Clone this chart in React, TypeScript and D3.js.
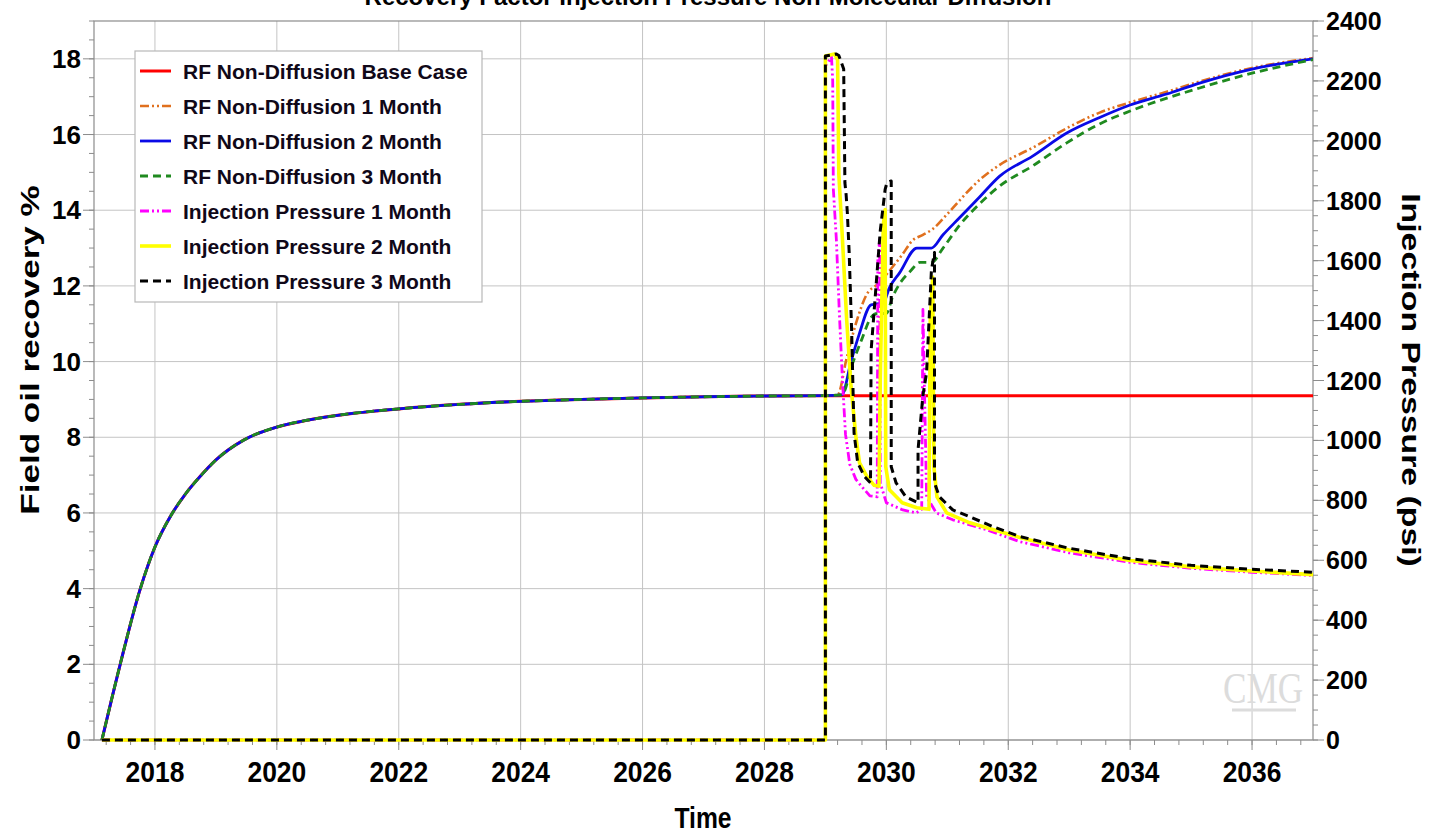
import React from "react";
import * as d3 from "d3";

// ---------- DATA ----------
const chartTitle = "Recovery Factor Injection Pressure Non-Molecular Diffusion";
const leftTicks = [0, 2, 4, 6, 8, 10, 12, 14, 16, 18];
const rightTicks = [0, 200, 400, 600, 800, 1000, 1200, 1400, 1600, 1800, 2000, 2200, 2400];
const xTicks = [2018, 2020, 2022, 2024, 2026, 2028, 2030, 2032, 2034, 2036];

// Base case recovery factor (%), shared by all cases until injection starts
const baseYears = [2017.13, 2017.43, 2017.76, 2018.0, 2018.25, 2018.5, 2018.75, 2019.0, 2019.46, 2020.0, 2020.5, 2021.0, 2022.0, 2023.0, 2024.0, 2025.0, 2026.0, 2027.0, 2028.0, 2029.0, 2037.0];
const baseRF = [0, 2.0, 4.0, 5.1, 5.9, 6.5, 6.98, 7.4, 7.93, 8.27, 8.45, 8.58, 8.75, 8.87, 8.95, 9.0, 9.04, 9.07, 9.09, 9.1, 9.1];

const rf1Years = [2029.2, 2029.35, 2029.5, 2029.67, 2029.9, 2030.05, 2030.25, 2030.43, 2030.6, 2030.76, 2031.0, 2031.53, 2031.86, 2032.4, 2033.0, 2033.5, 2034.0, 2034.6, 2035.14, 2036.0, 2037.0];
const rf1Values = [9.12, 10.1, 11.0, 11.75, 12.1, 12.4, 12.8, 13.2, 13.35, 13.5, 13.9, 14.8, 15.2, 15.65, 16.2, 16.58, 16.85, 17.13, 17.4, 17.76, 18.02];

const rf2Years = [2029.27, 2029.42, 2029.55, 2029.75, 2029.95, 2030.05, 2030.22, 2030.5, 2030.74, 2030.93, 2031.2, 2031.53, 2031.86, 2032.4, 2032.96, 2033.5, 2034.0, 2034.6, 2035.14, 2036.0, 2037.0];
const rf2Values = [9.12, 10.0, 10.7, 11.5, 11.55, 11.95, 12.35, 13.0, 13.0, 13.35, 13.8, 14.35, 14.9, 15.43, 16.04, 16.45, 16.78, 17.07, 17.36, 17.73, 18.0];

const rf3Years = [2029.27, 2029.45, 2029.6, 2029.75, 2029.85, 2030.0, 2030.1, 2030.22, 2030.4, 2030.55, 2030.74, 2030.93, 2031.2, 2031.53, 2031.86, 2032.4, 2032.96, 2033.5, 2034.0, 2035.14, 2036.0, 2037.0];
const rf3Values = [9.12, 9.97, 10.6, 11.17, 11.27, 11.27, 11.7, 12.06, 12.4, 12.62, 12.62, 13.0, 13.6, 14.17, 14.64, 15.17, 15.78, 16.28, 16.62, 17.23, 17.62, 17.98];

// Injection pressure (psi)
const ip1Years = [2017.13, 2029.0, 2029.0, 2029.1, 2029.12, 2029.13, 2029.18, 2029.23, 2029.28, 2029.33, 2029.4, 2029.5, 2029.6, 2029.73, 2029.85, 2029.86, 2029.89, 2029.9, 2030.0, 2030.27, 2030.49, 2030.58, 2030.6, 2030.66, 2030.82, 2031.09, 2031.64, 2032.19, 2033.0, 2034.0, 2035.0, 2036.0, 2037.0];
const ip1Values = [0, 0, 2250, 2280, 2200, 1840, 1670, 1420, 1200, 1020, 920, 870, 845, 815, 812, 1600, 1670, 858, 792, 768, 758, 770, 1437, 812, 758, 735, 702, 662, 625, 593, 573, 560, 549];

const ip2Years = [2017.13, 2029.0, 2029.0, 2029.15, 2029.2, 2029.22, 2029.28, 2029.35, 2029.42, 2029.5, 2029.56, 2029.68, 2029.8, 2029.88, 2029.9, 2029.95, 2029.98, 2029.99, 2030.05, 2030.26, 2030.5, 2030.7, 2030.72, 2030.76, 2030.78, 2030.83, 2030.99, 2031.37, 2032.19, 2033.0, 2034.0, 2035.0, 2036.0, 2037.0];
const ip2Values = [0, 0, 2283, 2290, 2270, 1890, 1670, 1400, 1180, 1013, 925, 880, 850, 847, 1200, 1720, 1771, 912, 835, 792, 775, 770, 1400, 1545, 912, 812, 758, 725, 676, 634, 599, 578, 564, 552];

const ip3Years = [2017.13, 2029.0, 2029.0, 2029.18, 2029.22, 2029.3, 2029.32, 2029.34, 2029.36, 2029.39, 2029.43, 2029.47, 2029.53, 2029.64, 2029.74, 2029.75, 2029.9, 2029.98, 2030.01, 2030.08, 2030.08, 2030.16, 2030.32, 2030.52, 2030.52, 2030.6, 2030.66, 2030.74, 2030.79, 2030.79, 2030.87, 2031.09, 2031.37, 2031.75, 2032.19, 2033.0, 2034.0, 2035.0, 2036.0, 2037.0];
const ip3Values = [0, 0, 2283, 2290, 2285, 2240, 1860, 1820, 1760, 1627, 1370, 1025, 925, 880, 858, 1300, 1700, 1838, 1860, 1866, 912, 858, 812, 792, 969, 1150, 1226, 1570, 1627, 858, 812, 768, 745, 712, 679, 640, 605, 583, 570, 560];

const seriesNames = [
  "RF Non-Diffusion Base Case",
  "RF Non-Diffusion 1 Month",
  "RF Non-Diffusion 2 Month",
  "RF Non-Diffusion 3 Month",
  "Injection Pressure 1 Month",
  "Injection Pressure 2 Month",
  "Injection Pressure 3 Month",
];

// ---------- LAYOUT / STYLE ----------
const W = 1429;
const H = 836;
const left = 94;
const right = 1313;
const top = 21;
const bottom = 740;
const FONT = "'Liberation Sans', Arial, Helvetica, sans-serif";

const styles = [
  { color: "#ff0000", dash: "", width: 3 },
  { color: "#e0701e", dash: "9,3,2,3,2,3", width: 2.6 },
  { color: "#0a0ae6", dash: "", width: 2.8 },
  { color: "#1f8a1f", dash: "8,5", width: 2.8 },
  { color: "#ff00ff", dash: "9,3,2,3,2,3", width: 2.8 },
  { color: "#ffff00", dash: "", width: 3.6 },
  { color: "#000000", dash: "8,5", width: 3 },
];

const zip = (xs: number[], ys: number[]) => xs.map((v, i) => [v, ys[i]] as [number, number]);

export default function App() {
  const x = d3.scaleLinear().domain([2017, 2037]).range([left, right]);
  const yL = d3.scaleLinear().domain([0, 19]).range([bottom, top]);
  const yR = d3.scaleLinear().domain([0, 2400]).range([bottom, top]);

  const basePts = zip(baseYears, baseRF);
  const prefix = basePts.filter((d) => d[0] <= 2029.0);
  const rfSeries = [
    basePts,
    prefix.concat(zip(rf1Years, rf1Values)),
    prefix.concat(zip(rf2Years, rf2Values)),
    prefix.concat(zip(rf3Years, rf3Values)),
  ];
  const ipSeries = [zip(ip1Years, ip1Values), zip(ip2Years, ip2Values), zip(ip3Years, ip3Values)];

  const lineL = d3
    .line<[number, number]>()
    .x((d) => x(d[0]))
    .y((d) => yL(d[1]))
    .curve(d3.curveMonotoneX);
  const lineR = d3.line<[number, number]>().x((d) => x(d[0])).y((d) => yR(d[1]));

  const leftMinor = d3.range(0, 19.01, 0.5);
  const rightMinor = d3.range(0, 2401, 50);
  const xMinor = d3.range(0, 50).map((i) => 2017.2 + i * 0.4).filter((v) => v < 2037);

  const axisColor = "#8c8c8c";
  const gridColor = "#c4c4c4";

  return (
    <svg width={W} height={H} style={{ position: "absolute", left: 0, top: 0, background: "#fff" }} fontFamily={FONT}>
      <defs>
        <clipPath id="plot">
          <rect x={left} y={top - 4} width={right - left} height={bottom - top + 8} />
        </clipPath>
      </defs>
      <rect x={0} y={0} width={W} height={H} fill="#fff" />

      {/* Title (cut off at the top, as in the reference) */}
      <text x={708} y={5} textAnchor="middle" fontSize={24} fontWeight="bold" fill="#000">
        {chartTitle}
      </text>

      {/* grid */}
      {leftTicks.map((t) => (
        <line key={"gh" + t} x1={left} x2={right} y1={yL(t)} y2={yL(t)} stroke={gridColor} strokeWidth={1} />
      ))}
      {xTicks.map((t) => (
        <line key={"gv" + t} x1={x(t)} x2={x(t)} y1={top} y2={bottom} stroke={gridColor} strokeWidth={1} />
      ))}

      {/* frame */}
      <rect x={left} y={top} width={right - left} height={bottom - top} fill="none" stroke={axisColor} strokeWidth={1.2} />

      {/* left axis ticks */}
      {leftMinor.map((t) => (
        <line key={"lm" + t} x1={left - 5} x2={left} y1={yL(t)} y2={yL(t)} stroke={axisColor} />
      ))}
      {leftTicks.map((t) => (
        <g key={"lt" + t}>
          <line x1={left - 11} x2={left} y1={yL(t)} y2={yL(t)} stroke={axisColor} />
          <text x={81} y={yL(t) + 9} textAnchor="end" fontSize={26} fontWeight="bold" fill="#000">
            {t}
          </text>
        </g>
      ))}

      {/* right axis ticks */}
      {rightMinor.map((t) => (
        <line key={"rm" + t} x1={right} x2={right + 5} y1={yR(t)} y2={yR(t)} stroke={axisColor} />
      ))}
      {rightTicks.map((t) => (
        <g key={"rt" + t}>
          <line x1={right} x2={right + 11} y1={yR(t)} y2={yR(t)} stroke={axisColor} />
          <text x={1326} y={yR(t) + 9} textAnchor="start" fontSize={25} fontWeight="bold" fill="#000">
            {t}
          </text>
        </g>
      ))}

      {/* bottom axis ticks */}
      {xMinor.map((t) => (
        <line key={"xm" + t} x1={x(t)} x2={x(t)} y1={bottom} y2={bottom + 5} stroke={axisColor} />
      ))}
      {xTicks.map((t) => (
        <g key={"xt" + t}>
          <line x1={x(t)} x2={x(t)} y1={bottom} y2={bottom + 10} stroke={axisColor} />
          <g transform={`translate(${x(t)},782) scale(0.88,1)`}>
            <text x={0} y={0} textAnchor="middle" fontSize={30} fontWeight="bold" fill="#000">
              {t}
            </text>
          </g>
        </g>
      ))}

      {/* axis titles */}
      <g transform="translate(703,828) scale(0.85,1)">
        <text textAnchor="middle" fontSize={29} fontWeight="bold" fill="#000">Time</text>
      </g>
      <g transform="translate(30,350) rotate(-90) scale(1.35,1)">
        <text textAnchor="middle" dominantBaseline="central" fontSize={26} fontWeight="bold" fill="#000">
          Field oil recovery %
        </text>
      </g>
      <g transform="translate(1411,380) rotate(90) scale(1.3,1)">
        <text textAnchor="middle" dominantBaseline="central" fontSize={26} fontWeight="bold" fill="#000">
          Injection Pressure (psi)
        </text>
      </g>

      {/* CMG watermark */}
      <g transform="translate(1263,703) scale(0.8,1)">
        <text textAnchor="middle" fontSize={44} fontFamily="'Liberation Serif', serif" fill="#dcdcdc">CMG</text>
      </g>
      <line x1={1232} x2={1296} y1={710} y2={710} stroke="#dcdcdc" strokeWidth={3} />

      {/* data */}
      <g clipPath="url(#plot)" fill="none" strokeLinejoin="round">
        {rfSeries.map((s, i) => (
          <path key={"rf" + i} d={lineL(s) || ""} stroke={styles[i].color} strokeWidth={styles[i].width} strokeDasharray={styles[i].dash} />
        ))}
        {ipSeries.map((s, i) => (
          <path key={"ip" + i} d={lineR(s) || ""} stroke={styles[i + 4].color} strokeWidth={styles[i + 4].width} strokeDasharray={styles[i + 4].dash} />
        ))}
      </g>

      {/* legend */}
      <rect x={135} y={51} width={347} height={251} fill="#fff" stroke="#b8b8b8" strokeWidth={1.2} />
      {seriesNames.map((name, i) => {
        const yy = 71 + i * 35;
        return (
          <g key={"lg" + i}>
            <line x1={140} x2={171} y1={yy} y2={yy} stroke={styles[i].color} strokeWidth={styles[i].width} strokeDasharray={styles[i].dash} />
            <text x={183} y={yy + 7.5} fontSize={21} fontWeight="bold" fill="#100818">
              {name}
            </text>
          </g>
        );
      })}
    </svg>
  );
}
